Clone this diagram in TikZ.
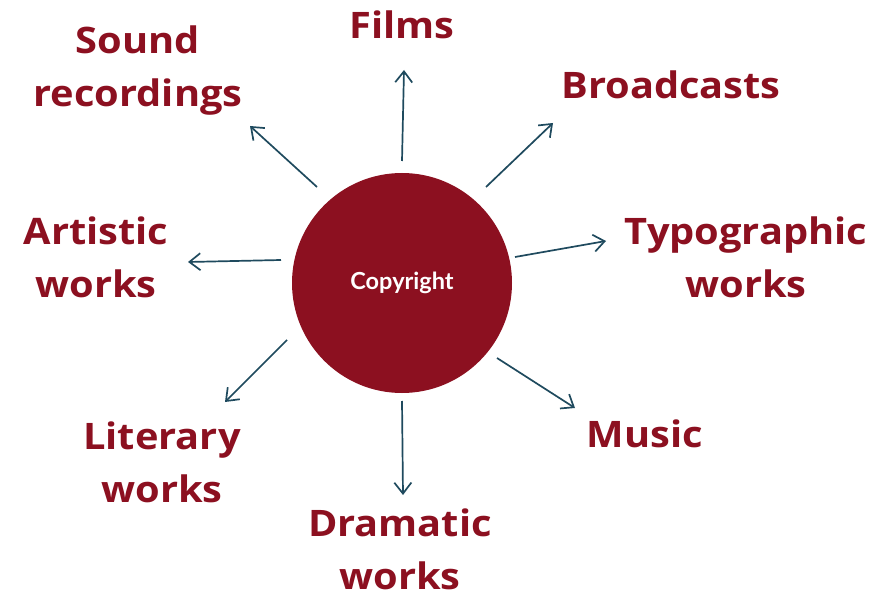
\documentclass[tikz,border=0pt]{standalone}
\usepackage{fontspec}
\setmainfont[FakeStretch=1.09]{Open Sans}
\newfontfamily\latofont{Lato}
\usetikzlibrary{arrows.meta}
\definecolor{cred}{HTML}{8C1020}
\definecolor{carrow}{HTML}{1F4A5E}
\tikzset{
  lbl/.style={text=cred, font=\fontsize{36.5}{53}\selectfont\bfseries, align=center, anchor=base, inner sep=0pt},
  arr/.style={draw=carrow, line width=1.7pt, -{Straight Barb[length=11pt,width=17pt,line width=1.7pt]}},
}
\begin{document}
\begin{tikzpicture}[x=1pt,y=-1pt]
\useasboundingbox (0,0) rectangle (884,596);
\fill[white] (0,0) rectangle (884,596);
\node[circle, fill=cred, minimum size=220pt, inner sep=0pt, text=white, font=\latofont\fontsize{23.5}{28}\selectfont\bfseries] (c) at (402,283) {Copyright};

\node[lbl] (sound) at (138,107) {Sound\\recordings};
\node[lbl] (films) at (402,39) {Films};
\node[lbl] (broad) at (671,99) {Broadcasts};
\node[lbl] (typo) at (746,298) {Typographic\\works};
\node[lbl] (art) at (96,298) {Artistic\\works};
\node[lbl] (lit) at (162,502) {Literary\\works};
\node[lbl] (music) at (645,447) {Music};
\node[lbl] (dram) at (400,589) {Dramatic\\works};

\coordinate (s1) at (402,161); \coordinate (e1) at (404,70);
\coordinate (s2) at (486,187); \coordinate (e2) at (553,123);
\coordinate (s3) at (515,257); \coordinate (e3) at (606,241);
\coordinate (s4) at (497,358); \coordinate (e4) at (575,408);
\coordinate (s5) at (402,401); \coordinate (e5) at (403,495);
\coordinate (s6) at (287,340); \coordinate (e6) at (225,402);
\coordinate (s7) at (281,260); \coordinate (e7) at (188,262);
\coordinate (s8) at (317,187); \coordinate (e8) at (250,126);
\foreach \i in {1,...,8} {\draw[arr] (s\i) -- (e\i);}
\end{tikzpicture}
\end{document}
